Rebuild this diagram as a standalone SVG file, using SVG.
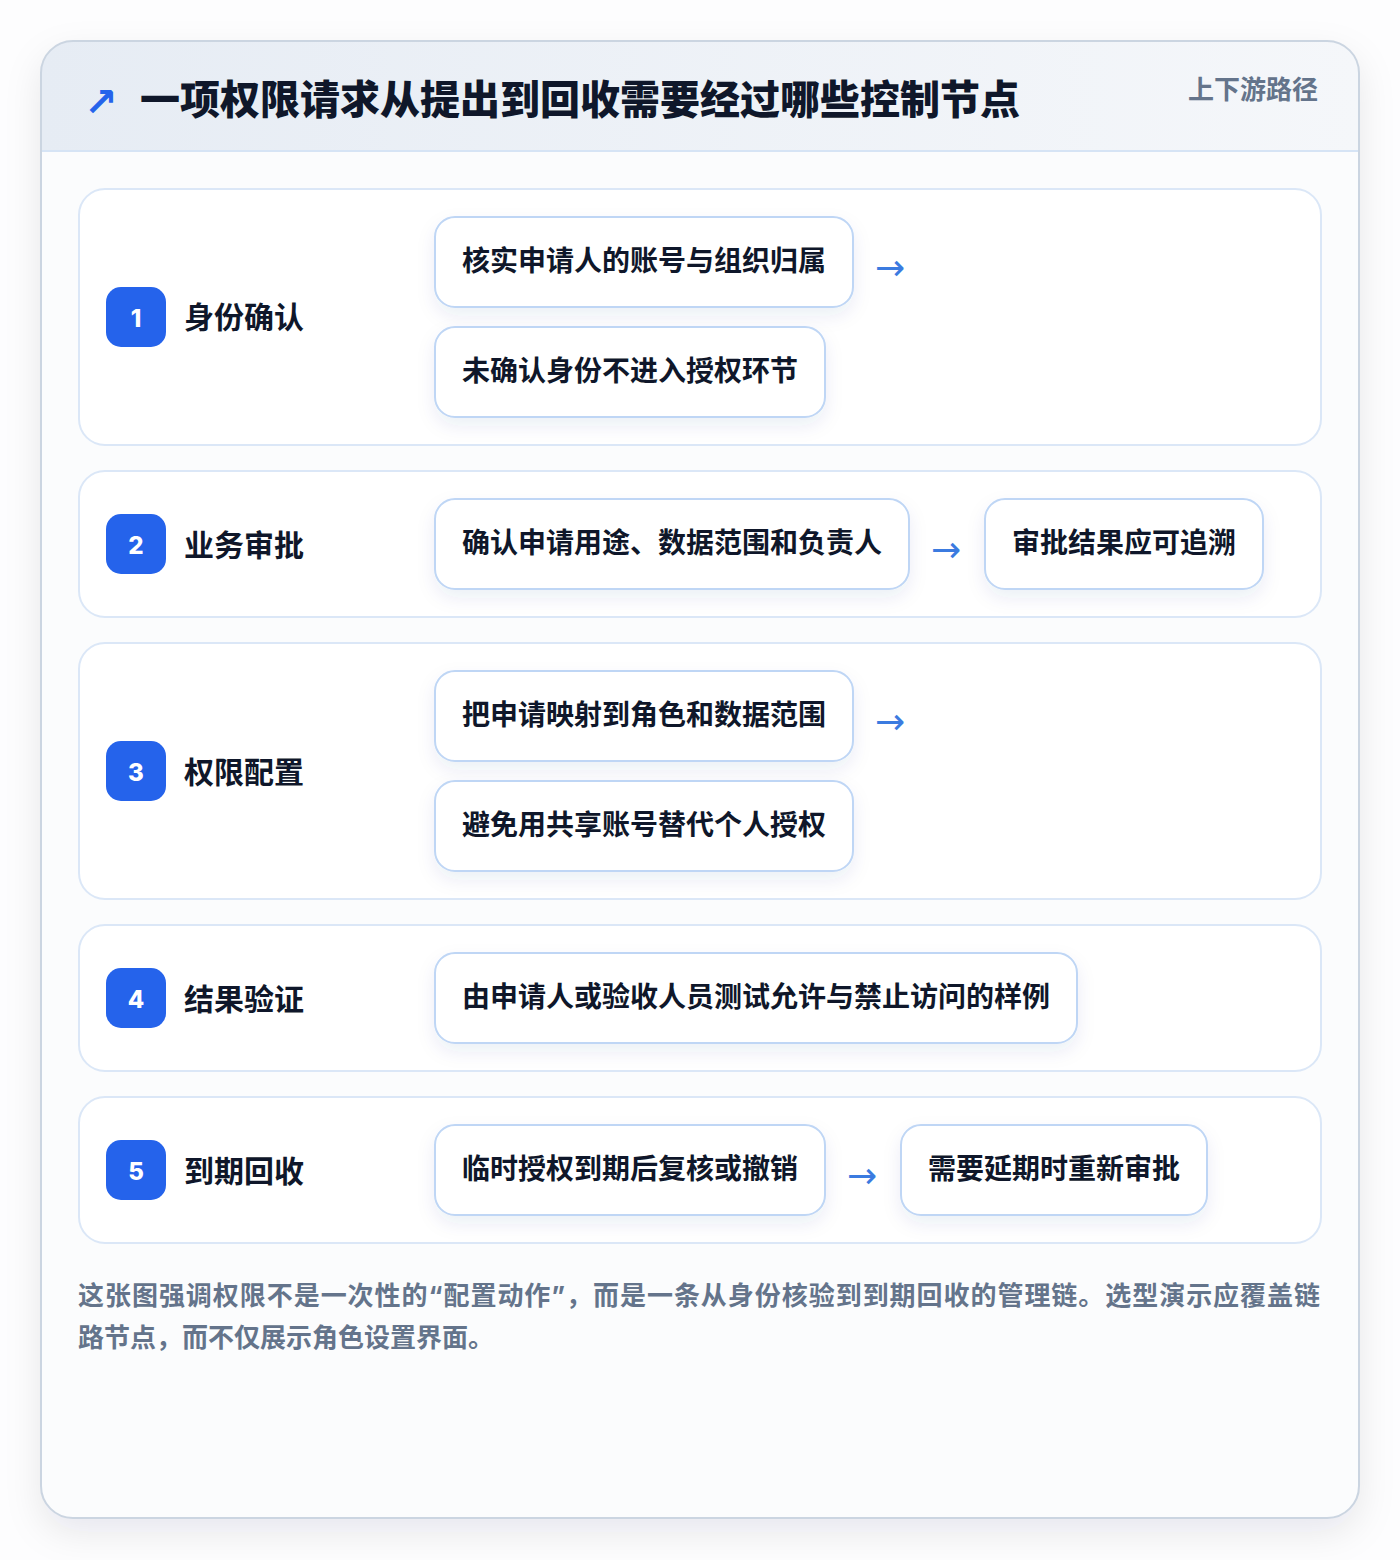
<svg xmlns="http://www.w3.org/2000/svg" width="1400" height="1560" viewBox="0 0 1400 1560">
<defs>
<style>
text{font-family:"Noto Sans CJK SC","Noto Sans",sans-serif;font-weight:700}
.title{font-size:40px;fill:#0f172a;font-weight:900}
.tag{font-size:26px;fill:#64748b}
.sec{fill:#ffffff;stroke:#dbe7f7;stroke-width:2}
.badge{fill:#2563eb}
.bnum{font-size:24px;fill:#ffffff;text-anchor:middle;font-family:"Inter","Noto Sans",sans-serif;font-weight:800}
.lbl{font-size:30px;fill:#0f172a}
.box{fill:#ffffff;stroke:#bfd6f5;stroke-width:2}
.btxt{font-size:28px;fill:#0f172a}
.arr{font-size:36px;fill:#3b7be0;font-family:"DejaVu Sans",sans-serif;font-weight:400}
.foot{font-size:26px;fill:#64748b}
.q{font-family:"Inter","Noto Sans",sans-serif}
</style>
<linearGradient id="hdr" x1="0" y1="0" x2="1" y2="0">
<stop offset="0" stop-color="#e6ecf4"/>
<stop offset="1" stop-color="#f5f7fa"/>
</linearGradient>
<filter id="cardsh" x="-10%" y="-10%" width="120%" height="120%">
<feDropShadow dx="0" dy="14" stdDeviation="18" flood-color="#0f172a" flood-opacity="0.09"/>
</filter>
<filter id="boxsh" x="-20%" y="-30%" width="140%" height="170%">
<feDropShadow dx="0" dy="8" stdDeviation="9" flood-color="#1e3a8a" flood-opacity="0.08"/>
</filter>
<clipPath id="cardclip"><rect x="41" y="41" width="1318" height="1477" rx="32"/></clipPath>
</defs>
<rect width="1400" height="1560" fill="#fdfdfe"/>
<g id="card">
<rect x="41" y="41" width="1318" height="1477" rx="32" fill="#fbfcfd" filter="url(#cardsh)"/>
<rect x="41" y="41" width="1318" height="110" fill="url(#hdr)" clip-path="url(#cardclip)"/>
<line x1="41" y1="151" x2="1359" y2="151" stroke="#d6e4f5" stroke-width="2"/>
<rect x="41" y="41" width="1318" height="1477" rx="32" fill="none" stroke="#cbd5e1" stroke-width="2"/>
</g>
<g id="header">
<text x="84" y="116" font-size="40" fill="#2563eb" style="font-family:'DejaVu Sans',sans-serif;font-weight:700">↗</text>
<text class="title" x="140" y="114">一项权限请求从提出到回收需要经过哪些控制节点</text>
<text class="tag" x="1318" y="99" text-anchor="end">上下游路径</text>
</g>
<g id="step1">
<rect class="sec" x="79" y="189" width="1242" height="256" rx="26"/>
<rect class="badge" x="106" y="287" width="60" height="60" rx="15"/>
<text class="bnum" x="136" y="327">1</text>
<text class="lbl" x="184" y="328">身份确认</text>
</g>
<g id="step1a"><rect class="box" x="435" y="217" width="418" height="90" rx="20" filter="url(#boxsh)"/><text class="btxt" x="462" y="271">核实申请人的账号与组织归属</text></g>
<g id="step1b"><rect class="box" x="435" y="327" width="390" height="90" rx="20" filter="url(#boxsh)"/><text class="btxt" x="462" y="381">未确认身份不进入授权环节</text></g>
<g id="step2">
<rect class="sec" x="79" y="471" width="1242" height="146" rx="26"/>
<rect class="badge" x="106" y="514" width="60" height="60" rx="15"/>
<text class="bnum" x="136" y="554">2</text>
<text class="lbl" x="184" y="556">业务审批</text>
</g>
<g id="step2a"><rect class="box" x="435" y="499" width="474" height="90" rx="20" filter="url(#boxsh)"/><text class="btxt" x="462" y="553">确认申请用途、数据范围和负责人</text></g>
<g id="step2b"><rect class="box" x="985" y="499" width="278" height="90" rx="20" filter="url(#boxsh)"/><text class="btxt" x="1012" y="553">审批结果应可追溯</text></g>
<g id="step3">
<rect class="sec" x="79" y="643" width="1242" height="256" rx="26"/>
<rect class="badge" x="106" y="741" width="60" height="60" rx="15"/>
<text class="bnum" x="136" y="781">3</text>
<text class="lbl" x="184" y="783">权限配置</text>
</g>
<g id="step3a"><rect class="box" x="435" y="671" width="418" height="90" rx="20" filter="url(#boxsh)"/><text class="btxt" x="462" y="725">把申请映射到角色和数据范围</text></g>
<g id="step3b"><rect class="box" x="435" y="781" width="418" height="90" rx="20" filter="url(#boxsh)"/><text class="btxt" x="462" y="835">避免用共享账号替代个人授权</text></g>
<g id="step4">
<rect class="sec" x="79" y="925" width="1242" height="146" rx="26"/>
<rect class="badge" x="106" y="968" width="60" height="60" rx="15"/>
<text class="bnum" x="136" y="1008">4</text>
<text class="lbl" x="184" y="1010">结果验证</text>
</g>
<g id="step4a"><rect class="box" x="435" y="953" width="642" height="90" rx="20" filter="url(#boxsh)"/><text class="btxt" x="462" y="1007">由申请人或验收人员测试允许与禁止访问的样例</text></g>
<g id="step5">
<rect class="sec" x="79" y="1097" width="1242" height="146" rx="26"/>
<rect class="badge" x="106" y="1140" width="60" height="60" rx="15"/>
<text class="bnum" x="136" y="1180">5</text>
<text class="lbl" x="184" y="1182">到期回收</text>
</g>
<g id="step5a"><rect class="box" x="435" y="1125" width="390" height="90" rx="20" filter="url(#boxsh)"/><text class="btxt" x="462" y="1179">临时授权到期后复核或撤销</text></g>
<g id="step5b"><rect class="box" x="901" y="1125" width="306" height="90" rx="20" filter="url(#boxsh)"/><text class="btxt" x="928" y="1179">需要延期时重新审批</text></g>
<g id="connectors">
<text class="arr" x="875" y="280">→</text>
<text class="arr" x="931" y="562">→</text>
<text class="arr" x="875" y="734">→</text>
<text class="arr" x="847" y="1188">→</text>
</g>
<g id="footer">
<text class="foot" x="78" y="1305" textLength="1242" lengthAdjust="spacing">这张图强调权限不是一次性的<tspan class="q">“</tspan>配置动作<tspan class="q">”</tspan>，而是一条从身份核验到到期回收的管理链。选型演示应覆盖链</text>
<text class="foot" x="78" y="1347">路节点，而不仅展示角色设置界面。</text>
</g>
</svg>
